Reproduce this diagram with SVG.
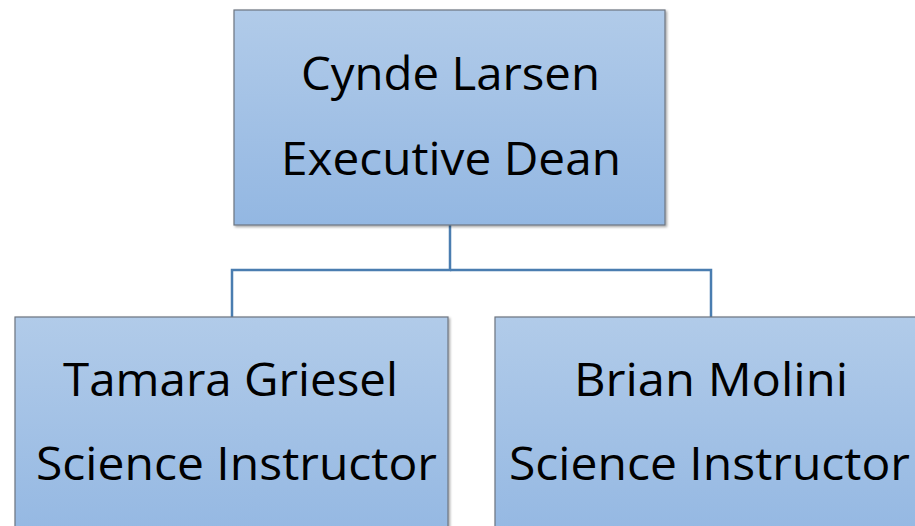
<svg xmlns="http://www.w3.org/2000/svg" width="915" height="526" viewBox="0 0 915 526">
<defs>
<linearGradient id="g" x1="0" y1="0" x2="0" y2="1">
<stop offset="0" stop-color="#b1cbe9"/>
<stop offset="1" stop-color="#93b7e2"/>
</linearGradient>
<filter id="sh" x="-5%" y="-5%" width="110%" height="110%">
<feDropShadow dx="1.5" dy="1.5" stdDeviation="0.8" flood-color="#000" flood-opacity="0.35"/>
</filter>
</defs>
<style>
.box{fill:url(#g);stroke:#6d7580;stroke-width:1.2;filter:url(#sh)}
.t{font-family:"Open Sans","Noto Sans",sans-serif;font-size:46px;fill:#000}
.c{fill:none;stroke:#4a7db0;stroke-width:2.5}
</style>
<rect width="915" height="526" fill="#fff"/>
<g id="connectors">
<path class="c" d="M450 225 V270 H232 V317"/>
<path class="c" d="M450 270 H711 V317"/>
</g>
<g id="node-cynde">
<rect class="box" x="234" y="10" width="431" height="215"/>
<text class="t" x="301" y="90" textLength="299" lengthAdjust="spacingAndGlyphs">Cynde Larsen</text>
<text class="t" x="281" y="175" textLength="340" lengthAdjust="spacingAndGlyphs">Executive Dean</text>
</g>
<g id="node-tamara">
<rect class="box" x="15" y="317" width="433" height="230"/>
<text class="t" x="63" y="396" textLength="335" lengthAdjust="spacingAndGlyphs">Tamara Griesel</text>
<text class="t" x="36" y="480" textLength="401" lengthAdjust="spacingAndGlyphs">Science Instructor</text>
</g>
<g id="node-brian">
<rect class="box" x="495" y="317" width="440" height="230"/>
<text class="t" x="574" y="396" textLength="274" lengthAdjust="spacingAndGlyphs">Brian Molini</text>
<text class="t" x="509" y="480" textLength="401" lengthAdjust="spacingAndGlyphs">Science Instructor</text>
</g>
</svg>
